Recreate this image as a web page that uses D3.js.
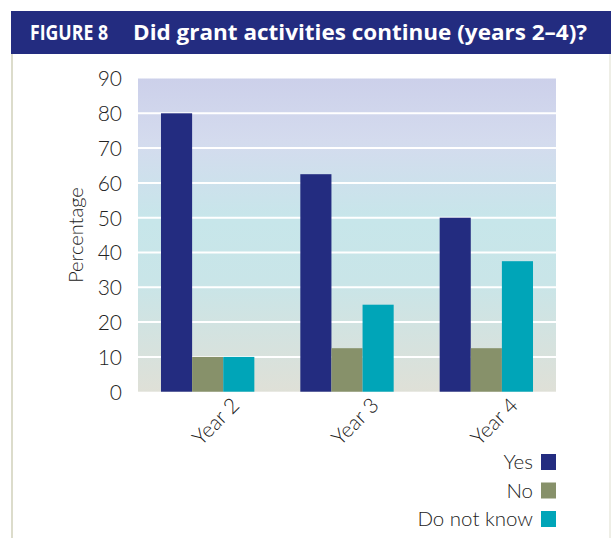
<!DOCTYPE html>
<html><head><meta charset="utf-8">
<script src="https://cdn.jsdelivr.net/npm/d3@7"></script>
<style>
html,body{margin:0;padding:0;background:#fff;}
svg{display:block;}
text{font-family:"Lato","Open Sans",sans-serif;}
</style></head>
<body>
<script>
const categories = ["Year 2", "Year 3", "Year 4"];
const seriesNames = ["Yes", "No", "Do not know"];
const yesValues = [80, 62.5, 50];
const noValues = [10, 12.5, 12.5];
const dontKnowValues = [10, 25, 37.5];
const yTicks = [0, 10, 20, 30, 40, 50, 60, 70, 80, 90];
const colors = ["#232c80", "#87916a", "#00a5b8"];
const titleLabel = "FIGURE 8";
const titleText = "Did grant activities continue (years 2\u20134)?";

const W = 611, H = 538;
const svg = d3.select("body").append("svg").attr("width", W).attr("height", H);

// frame
svg.append("rect").attr("x", 11).attr("y", 53).attr("width", 2).attr("height", H - 53).attr("fill", "#dcdccb");
svg.append("rect").attr("x", 609).attr("y", 53).attr("width", 2).attr("height", H - 53).attr("fill", "#eeeee6");
svg.append("rect").attr("x", 11).attr("y", 11).attr("width", W - 11).attr("height", 43).attr("fill", "#232c80");
svg.append("text").attr("x", 30).attr("y", 40).attr("fill", "#fff")
  .attr("textLength", 78).attr("lengthAdjust", "spacingAndGlyphs")
  .style("font-family", "'Open Sans',sans-serif").style("font-weight", "700").style("font-size", "22px")
  .text(titleLabel);
svg.append("text").attr("x", 133).attr("y", 40).attr("fill", "#fff")
  .attr("textLength", 454).attr("lengthAdjust", "spacingAndGlyphs")
  .style("font-family", "'Open Sans',sans-serif").style("font-weight", "700").style("font-size", "22px")
  .text(titleText);

const m = {left: 138, right: 556, top: 78.5, bottom: 391.7};
const y = d3.scaleLinear().domain([0, 90]).range([m.bottom, m.top]);
const x0 = d3.scaleBand().domain(categories).range([m.left, m.right]).paddingInner(0.33).paddingOuter(0.165);
const x1 = d3.scaleBand().domain(seriesNames).range([0, x0.bandwidth()]);

const data = categories.map((c, i) => ({cat: c, vals: [yesValues[i], noValues[i], dontKnowValues[i]]}));

// gradient background
const defs = svg.append("defs");
const grad = defs.append("linearGradient").attr("id", "bg").attr("x1", 0).attr("y1", 0).attr("x2", 0).attr("y2", 1);
grad.append("stop").attr("offset", "0%").attr("stop-color", "#ccd0ea");
grad.append("stop").attr("offset", "20%").attr("stop-color", "#d4dbee");
grad.append("stop").attr("offset", "45%").attr("stop-color", "#c7e6ea");
grad.append("stop").attr("offset", "65%").attr("stop-color", "#c9e5e8");
grad.append("stop").attr("offset", "100%").attr("stop-color", "#dfe0d7");
svg.append("rect").attr("x", m.left).attr("y", m.top).attr("width", m.right - m.left).attr("height", m.bottom - m.top).attr("fill", "url(#bg)");

// gridlines
svg.append("g").selectAll("line").data(yTicks.filter(t => t > 0 && t < 90)).join("line")
  .attr("x1", m.left).attr("x2", m.right).attr("y1", d => y(d)).attr("y2", d => y(d))
  .attr("stroke", "#ffffff").attr("stroke-width", 2);

// bars
const g = svg.append("g").selectAll("g").data(data).join("g").attr("transform", d => `translate(${x0(d.cat)},0)`);
g.selectAll("rect").data(d => d.vals.map((v, i) => ({name: seriesNames[i], v, i}))).join("rect")
  .attr("x", d => x1(d.name)).attr("width", x1.bandwidth())
  .attr("y", d => y(d.v)).attr("height", d => y(0) - y(d.v))
  .attr("fill", d => colors[d.i]);

// y axis
const yAxis = svg.append("g").attr("transform", `translate(${m.left},0)`)
  .call(d3.axisLeft(y).tickValues(yTicks).tickSize(0).tickPadding(16));
yAxis.select(".domain").remove();
yAxis.selectAll("text").style("font-size", "21px").style("font-weight", "300").attr("fill", "#222").attr("dy", "0.35em");

svg.append("text").attr("transform", `translate(83,${(m.top + m.bottom) / 2}) rotate(-90)`)
  .attr("text-anchor", "middle").style("font-size", "20px").style("font-weight", "300").attr("fill", "#222").text("Percentage");

// x axis
const xAxis = svg.append("g").attr("transform", `translate(0,${m.bottom})`)
  .call(d3.axisBottom(x0).tickSize(0).tickPadding(0));
xAxis.select(".domain").remove();
xAxis.selectAll("text")
  .attr("text-anchor", "end").attr("dy", null).attr("y", 0)
  .attr("transform", "translate(33,15) rotate(-45)")
  .style("font-size", "21px").style("font-weight", "300").attr("fill", "#222");

// legend
const leg = svg.append("g").selectAll("g").data(seriesNames).join("g")
  .attr("transform", (d, i) => `translate(0,${454 + i * 28.5})`);
leg.append("rect").attr("x", 541).attr("y", 0).attr("width", 15).attr("height", 16).attr("fill", (d, i) => colors[i]);
leg.append("text").attr("x", 533).attr("y", 8).attr("dy", "0.35em").attr("text-anchor", "end")
  .style("font-size", "20.5px").style("font-weight", "300").attr("fill", "#222").text(d => d);
</script>
</body></html>
